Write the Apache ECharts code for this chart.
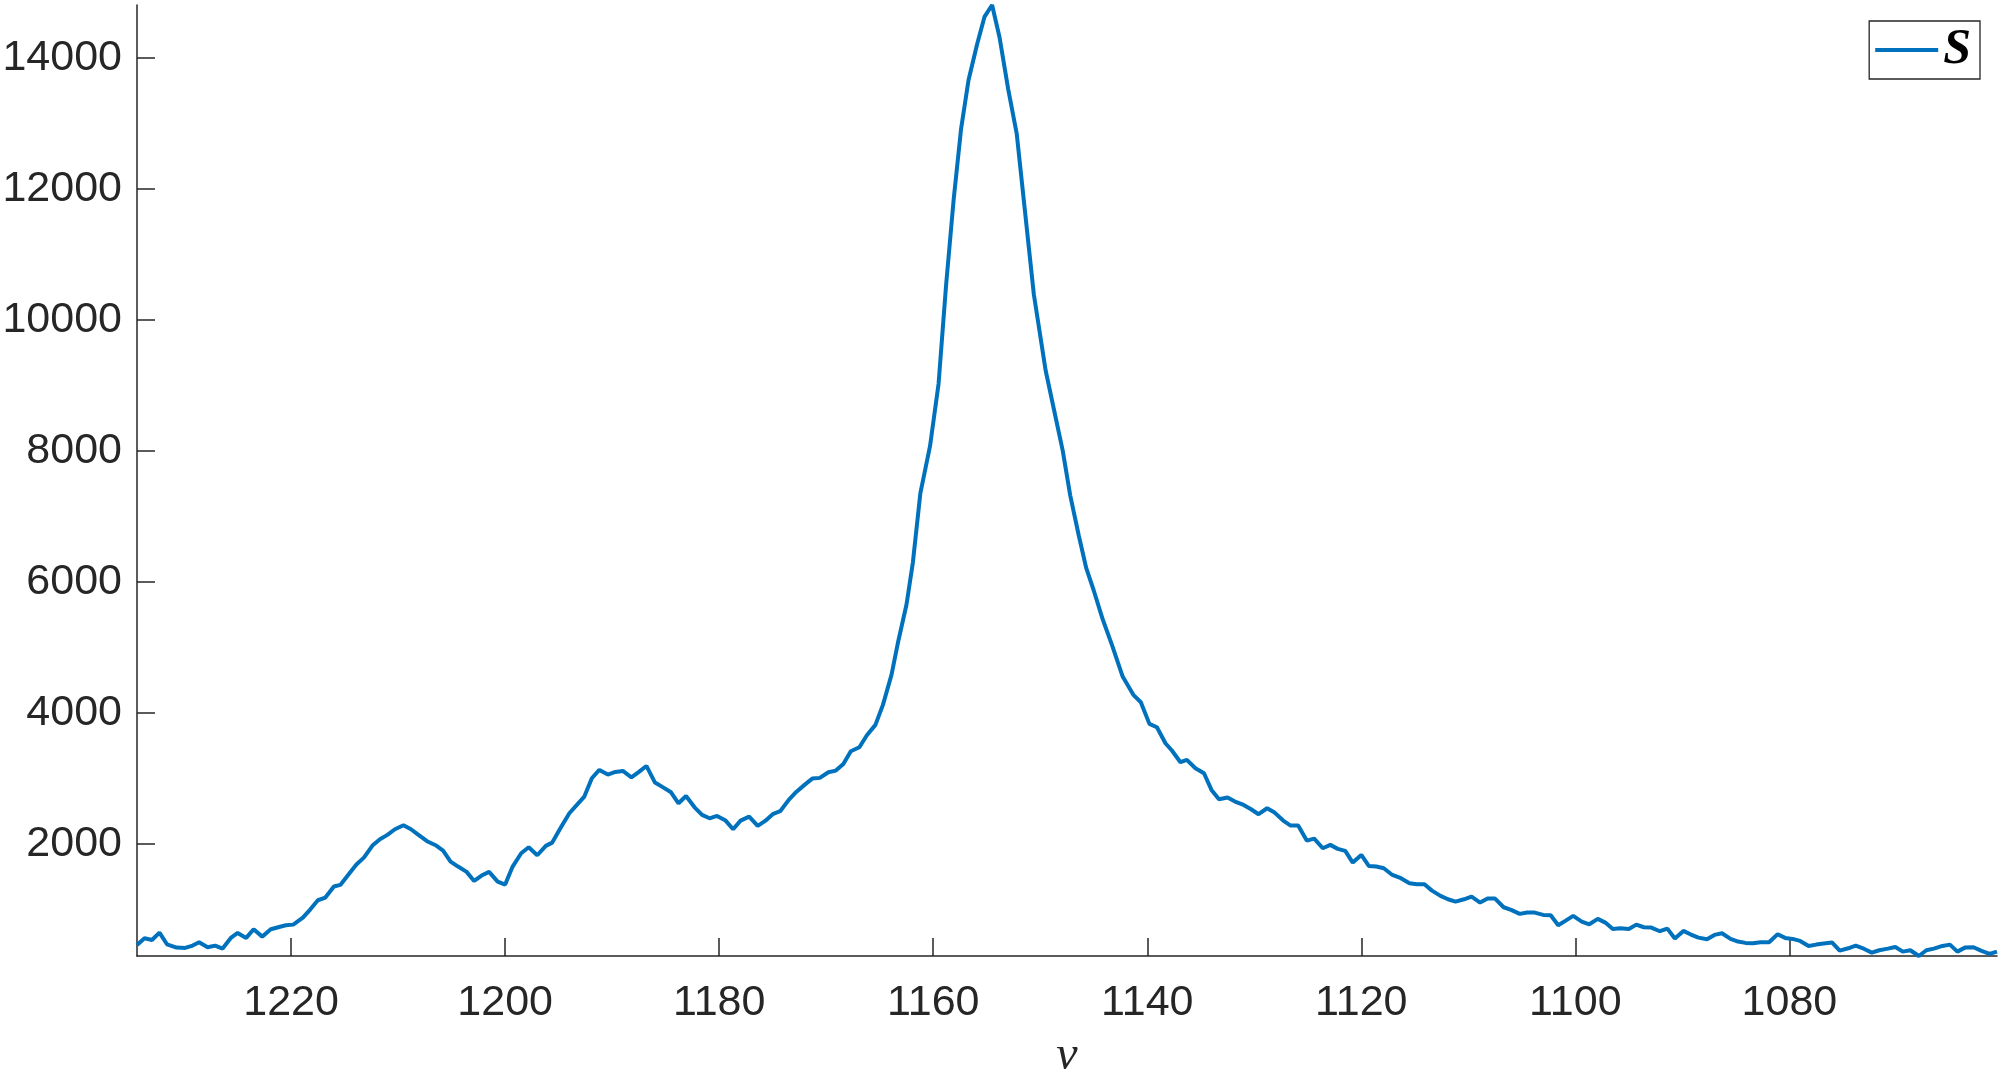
<!DOCTYPE html>
<html>
<head>
<meta charset="utf-8">
<title>S vs nu</title>
<script src="https://cdn.jsdelivr.net/npm/echarts@6/dist/echarts.min.js"></script>
<style>
  html, body { margin: 0; padding: 0; background: #fff; }
  #chart { width: 2001px; height: 1072px; }
</style>
</head>
<body>
<div id="chart"></div>
<script>
// wavenumber axis (reversed) and signal values
const nu = [
  1234.4, 1233.7, 1233.0, 1232.3, 1231.6, 1230.7, 1229.9, 1229.2, 1228.6, 1227.8,
  1227.1, 1226.4, 1225.6, 1225.0, 1224.2, 1223.5, 1222.7, 1221.9, 1221.2, 1220.5,
  1219.8, 1218.9, 1218.2, 1217.5, 1216.8, 1216.0, 1215.4, 1214.6, 1213.9, 1213.2,
  1212.4, 1211.7, 1211.0, 1210.3, 1209.5, 1208.8, 1208.1, 1207.3, 1206.5, 1205.8,
  1205.1, 1204.4, 1203.6, 1202.9, 1202.2, 1201.5, 1200.7, 1200.0, 1199.3, 1198.5,
  1197.8, 1197.0, 1196.2, 1195.6, 1194.8, 1194.0, 1193.3, 1192.6, 1191.9, 1191.2,
  1190.4, 1189.7, 1189.0, 1188.2, 1187.5, 1186.8, 1186.0, 1185.2, 1184.5, 1183.8,
  1183.1, 1182.3, 1181.6, 1180.9, 1180.2, 1179.4, 1178.7, 1178.0, 1177.2, 1176.4,
  1175.7, 1175.0, 1174.3, 1173.5, 1172.8, 1172.0, 1171.3, 1170.6, 1169.8, 1169.1,
  1168.4, 1167.7, 1166.9, 1166.2, 1165.4, 1164.7, 1163.9, 1163.3, 1162.5, 1161.9,
  1161.2, 1160.3, 1159.5, 1158.8, 1158.1, 1157.4, 1156.7, 1155.9, 1155.2, 1154.5,
  1153.8, 1153.0, 1152.2, 1151.4, 1150.6, 1149.5, 1148.7, 1147.9, 1147.2, 1146.4,
  1145.7, 1145.0, 1144.2, 1143.3, 1142.3, 1141.3, 1140.6, 1139.8, 1139.1, 1138.3,
  1137.7, 1136.9, 1136.3, 1135.5, 1134.7, 1134.0, 1133.3, 1132.5, 1131.8, 1131.0,
  1130.3, 1129.6, 1128.8, 1128.1, 1127.3, 1126.6, 1125.9, 1125.1, 1124.4, 1123.6,
  1122.9, 1122.2, 1121.5, 1120.8, 1120.0, 1119.3, 1118.6, 1117.9, 1117.1, 1116.3,
  1115.5, 1114.8, 1114.1, 1113.4, 1112.6, 1111.9, 1111.2, 1110.4, 1109.7, 1108.9,
  1108.2, 1107.5, 1106.7, 1106.0, 1105.2, 1104.5, 1103.8, 1103.0, 1102.3, 1101.6,
  1100.9, 1100.2, 1099.4, 1098.7, 1097.9, 1097.2, 1096.5, 1095.8, 1095.0, 1094.3,
  1093.6, 1092.9, 1092.1, 1091.4, 1090.7, 1089.9, 1089.2, 1088.5, 1087.7, 1087.0,
  1086.3, 1085.5, 1084.8, 1084.1, 1083.4, 1082.7, 1081.9, 1081.1, 1080.4, 1079.7,
  1079.0, 1078.2, 1077.5, 1076.8, 1076.0, 1075.3, 1074.5, 1073.8, 1073.0, 1072.3,
  1071.6, 1070.8, 1070.1, 1069.4, 1068.7, 1067.9, 1067.2, 1066.5, 1065.7, 1065.0,
  1064.3, 1063.6, 1062.8, 1062.1, 1061.3, 1060.6
]

const S = [
  463, 565, 539, 651, 473, 422, 417, 453, 504, 427,
  453, 407, 575, 646, 570, 702, 590, 702, 733, 763,
  773, 880, 1007, 1145, 1186, 1354, 1379, 1547, 1690, 1796,
  1980, 2076, 2143, 2229, 2290, 2229, 2143, 2046, 1985, 1903,
  1735, 1659, 1578, 1440, 1522, 1578, 1430, 1384, 1659, 1863,
  1954, 1832, 1975, 2025, 2254, 2473, 2600, 2727, 3007, 3134,
  3063, 3104, 3119, 3022, 3104, 3195, 2941, 2864, 2793, 2625,
  2737, 2564, 2447, 2396, 2432, 2361, 2228, 2361, 2422, 2280,
  2356, 2458, 2504, 2677, 2798, 2910, 3002, 3013, 3099, 3124,
  3226, 3420, 3481, 3664, 3822, 4127, 4585, 5075, 5656, 6303,
  7360, 8076, 9030, 10530, 11825, 12915, 13665, 14211, 14633, 14810,
  14314, 13529, 12848, 11620, 10394, 9235, 8621, 8007, 7326, 6712,
  6213, 5873, 5450, 5043, 4560, 4280, 4168, 3837, 3786, 3542,
  3430, 3252, 3288, 3160, 3084, 2829, 2687, 2712, 2651, 2600,
  2534, 2458, 2549, 2483, 2361, 2285, 2285, 2056, 2086, 1939,
  1990, 1929, 1898, 1720, 1837, 1669, 1659, 1633, 1531, 1481,
  1404, 1389, 1389, 1292, 1211, 1160, 1124, 1160, 1201, 1109,
  1170, 1170, 1038, 998, 937, 957, 957, 921, 916, 763,
  834, 906, 819, 778, 860, 804, 707, 717, 707, 773,
  733, 728, 672, 712, 560, 677, 621, 575, 550, 616,
  641, 555, 514, 494, 489, 504, 504, 626, 570, 555,
  524, 448, 468, 484, 499, 377, 412, 453, 402, 346,
  382, 407, 432, 361, 382, 294, 382, 407, 448, 468,
  361, 422, 427, 376, 326, 361
]

const xTicks = [1080, 1100, 1120, 1140, 1160, 1180, 1200, 1220]
const yTicks = [2000, 4000, 6000, 8000, 10000, 12000, 14000]

const AXIS_COLOR = '#262626'
const LINE_COLOR = '#0072BD'
const LABEL_FONT = "'Liberation Sans', Arial, Helvetica, sans-serif"
const SERIF_FONT = "'Liberation Serif', 'DejaVu Serif', 'Times New Roman', serif"

const chart = echarts.init(document.getElementById('chart'), null, { renderer: 'canvas' })

const option = {
  backgroundColor: '#ffffff',
  animation: false,
  grid: { left: 137, right: 4, top: 5, bottom: 116, outerBoundsMode: 'none', containLabel: false },
  legend: {
    right: 21,
    top: 21,
    padding: [4, 9, 4, 6],
    backgroundColor: '#ffffff',
    borderColor: AXIS_COLOR,
    borderWidth: 1.3,
    icon: 'rect',
    itemWidth: 63,
    itemHeight: 4,
    textStyle: {
      fontFamily: SERIF_FONT,
      fontStyle: 'italic',
      fontWeight: 'bold',
      fontSize: 50,
      color: '#000000'
    },
    data: ['S']
  },
  xAxis: {
    type: 'value',
    inverse: true,
    min: 1060.6,
    max: 1234.4,
    name: 'ν',
    nameLocation: 'middle',
    nameGap: 76,
    nameTextStyle: {
      fontFamily: SERIF_FONT,
      fontStyle: 'italic',
      fontSize: 48,
      color: AXIS_COLOR
    },
    axisLine: { show: true, onZero: false, lineStyle: { color: AXIS_COLOR, width: 1.5 } },
    axisTick: {
      show: true,
      inside: true,
      length: 18,
      customValues: xTicks,
      lineStyle: { color: AXIS_COLOR, width: 1.5 }
    },
    axisLabel: {
      customValues: xTicks,
      formatter: (v) => String(v),
      margin: 26,
      fontFamily: LABEL_FONT,
      fontSize: 43,
      color: AXIS_COLOR
    },
    splitLine: { show: false }
  },
  yAxis: {
    type: 'value',
    min: 294,
    max: 14810,
    axisLine: { show: true, onZero: false, lineStyle: { color: AXIS_COLOR, width: 1.5 } },
    axisTick: {
      show: true,
      inside: true,
      length: 18,
      customValues: yTicks,
      lineStyle: { color: AXIS_COLOR, width: 1.5 }
    },
    axisLabel: {
      customValues: yTicks,
      formatter: (v) => String(v),
      margin: 15,
      fontFamily: LABEL_FONT,
      fontSize: 43,
      color: AXIS_COLOR
    },
    splitLine: { show: false }
  },
  series: [
    {
      name: 'S',
      type: 'line',
      data: nu.map((v, i) => [v, S[i]]),
      showSymbol: false,
      symbol: 'none',
      color: LINE_COLOR,
      lineStyle: { color: LINE_COLOR, width: 4 },
      clip: true
    }
  ]
}

chart.setOption(option)
</script>
</body>
</html>
